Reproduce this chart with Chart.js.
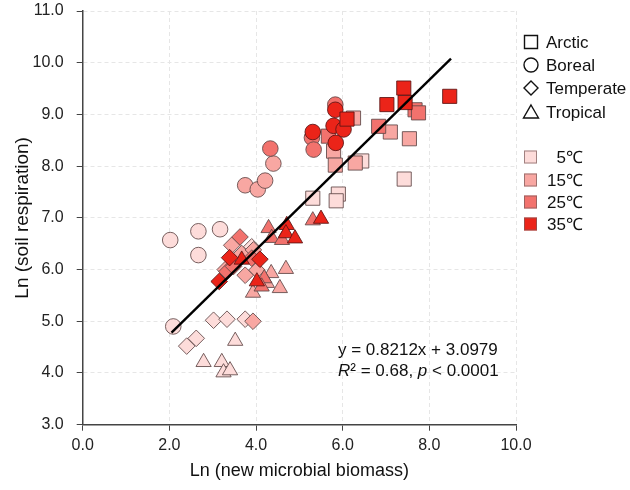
<!DOCTYPE html>
<html><head><meta charset="utf-8">
<script src="https://cdn.jsdelivr.net/npm/chart.js@4.4.1/dist/chart.umd.min.js"></script>
<style>html,body{margin:0;padding:0;background:#fff}</style>
</head><body>
<canvas id="c" width="630" height="490"></canvas>
<script>
// ---- data ----
const temps = [5, 15, 25, 35];
const tempLabels = ['5℃', '15℃', '25℃', '35℃'];
const tempColors = ['#fddcda', '#f8a7a2', '#f2726d', '#eb2419'];
const biomes = ['Arctic', 'Boreal', 'Temperate', 'Tropical'];

const arcticX = [7.41, 7.02, 7.44, 8.47, 6.10, 7.67, 7.75, 6.83, 5.67, 6.25, 7.10, 7.54, 5.79, 5.83, 6.29, 6.44, 7.42, 5.31, 5.90, 5.85];
const arcticY = [9.51, 9.19, 9.23, 9.35, 8.91, 9.09, 9.03, 8.77, 8.58, 8.93, 8.66, 8.53, 8.29, 8.02, 8.06, 8.10, 7.75, 7.38, 7.46, 7.33];
const arcticT = [35, 35, 35, 35, 35, 25, 25, 25, 25, 15, 15, 15, 15, 15, 15, 5, 5, 5, 5, 5];

const borealX = [2.02, 2.09, 2.67, 2.67, 3.17, 3.75, 4.04, 4.21, 4.40, 4.33, 5.29, 5.33, 5.83, 5.83, 5.31, 5.79, 6.02, 5.84];
const borealY = [6.57, 4.90, 6.74, 6.28, 6.78, 7.63, 7.55, 7.72, 8.05, 8.34, 8.55, 8.32, 9.19, 9.09, 8.66, 8.78, 8.71, 8.45];
const borealT = [5, 5, 5, 5, 5, 15, 15, 15, 15, 25, 25, 25, 25, 35, 35, 35, 35, 35];

const temperateX = [2.40, 2.62, 3.02, 3.33, 3.75, 3.90, 3.93, 3.44, 3.67, 3.94, 4.02, 3.75, 3.29, 3.63, 3.33, 3.48, 3.90, 3.39, 4.09, 3.15];
const temperateY = [4.52, 4.67, 5.02, 5.04, 5.04, 6.44, 5.00, 6.47, 6.31, 6.38, 5.99, 5.89, 6.00, 6.63, 5.96, 6.06, 6.22, 6.23, 6.20, 5.77];
const temperateT = [5, 5, 5, 5, 5, 5, 15, 15, 15, 15, 15, 15, 15, 25, 25, 25, 25, 35, 35, 35];

const tropicalX = [2.79, 3.21, 3.25, 3.40, 3.52, 4.69, 4.35, 4.55, 4.25, 3.93, 4.29, 4.36, 4.60, 5.31, 4.19, 4.13, 4.71, 4.69, 4.90, 5.50, 4.02, 3.67];
const tropicalY = [4.21, 4.21, 4.01, 4.05, 4.62, 6.01, 5.93, 5.64, 5.74, 5.55, 6.80, 6.61, 6.57, 6.95, 5.83, 5.67, 6.86, 6.70, 6.60, 6.98, 5.77, 6.19];
const tropicalT = [5, 5, 5, 5, 5, 15, 15, 15, 15, 15, 25, 25, 25, 25, 25, 25, 35, 35, 35, 35, 35, 35];

const fitX = [2.05, 8.50];
const fitY = [4.78, 10.08];
const fitEquation = 'y = 0.8212x + 3.0979';
const fitStats = ['R', '² = 0.68, ', 'p', ' < 0.0001'];

const xTitle = 'Ln (new microbial biomass)';
const yTitle = 'Ln (soil respiration)';

// ---- build datasets ----
const biomeData = [
  {x: arcticX, y: arcticY, t: arcticT, style: 'rect', r: 10},
  {x: borealX, y: borealY, t: borealT, style: 'circle', r: 7.8},
  {x: temperateX, y: temperateY, t: temperateT, style: 'rectRot', r: 8.3},
  {x: tropicalX, y: tropicalY, t: tropicalT, style: 'triangle', r: 8.8}
];

const datasets = [{
  type: 'line',
  data: fitX.map((v, i) => ({x: v, y: fitY[i]})),
  borderColor: '#000', borderWidth: 2.4, pointRadius: 0, fill: false, tension: 0
}];
for (let ti = temps.length - 1; ti >= 0; ti--) {
  biomeData.forEach((b, bi) => {
    const pts = [];
    b.x.forEach((v, i) => { if (b.t[i] === temps[ti]) pts.push({x: v, y: b.y[i]}); });
    datasets.push({
      label: biomes[bi] + ' ' + tempLabels[ti],
      data: pts,
      pointStyle: b.style,
      pointRadius: b.r,
      backgroundColor: tempColors[ti],
      borderColor: ti === 3 ? 'rgba(90,20,20,0.85)' : 'rgba(95,70,70,0.85)',
      borderWidth: 1
    });
  });
}

const FONT = "'Liberation Sans', Arial, sans-serif";
Chart.defaults.font.family = FONT;

const overlay = {
  id: 'overlay',
  afterDraw(chart) {
    const ctx = chart.ctx;
    ctx.save();
    // legend: shapes
    ctx.strokeStyle = '#111';
    ctx.lineWidth = 1.4;
    ctx.fillStyle = '#111';
    ctx.font = '17px ' + FONT;
    ctx.textBaseline = 'middle';
    ctx.textAlign = 'left';
    const sx = 531, tx = 546;
    const shapeYs = [42, 65, 88, 112];
    shapeYs.forEach((y, i) => {
      ctx.beginPath();
      if (i === 0) ctx.rect(sx - 6.5, y - 6.5, 13, 13);
      else if (i === 1) ctx.arc(sx, y, 7, 0, Math.PI * 2);
      else if (i === 2) { ctx.moveTo(sx, y - 7); ctx.lineTo(sx + 7, y); ctx.lineTo(sx, y + 7); ctx.lineTo(sx - 7, y); ctx.closePath(); }
      else { ctx.moveTo(sx, y - 7); ctx.lineTo(sx + 7.5, y + 6); ctx.lineTo(sx - 7.5, y + 6); ctx.closePath(); }
      ctx.stroke();
      ctx.fillText(biomes[i], tx, y + 1);
    });
    // legend: temperatures
    const tYs = [157, 180, 202, 224];
    const rightX = 547 + ctx.measureText('15℃').width;
    tYs.forEach((y, i) => {
      ctx.fillStyle = tempColors[i];
      ctx.fillRect(524, y - 6.5, 13, 13);
      ctx.strokeStyle = 'rgba(120,90,90,0.7)';
      ctx.lineWidth = 1;
      ctx.strokeRect(524.5, y - 6, 12, 12);
      ctx.fillStyle = '#111';
      ctx.textAlign = 'right';
      ctx.fillText(tempLabels[i], rightX, y + 1);
    });
    // regression annotation
    ctx.textAlign = 'left';
    ctx.fillStyle = '#111';
    ctx.font = '17px ' + FONT;
    ctx.fillText(fitEquation, 338, 350);
    let x = 338;
    fitStats.forEach((s, i) => {
      ctx.font = (i % 2 === 0 ? 'italic ' : '') + '17px ' + FONT;
      ctx.fillText(s, x, 371);
      x += ctx.measureText(s).width;
    });
    ctx.restore();
  }
};

new Chart(document.getElementById('c'), {
  type: 'scatter',
  data: {datasets},
  options: {
    responsive: false,
    animation: false,
    events: [],
    layout: {padding: {left: 8, right: 114, top: 0, bottom: 5}},
    plugins: {legend: {display: false}, tooltip: {enabled: false}},
    scales: {
      x: {
        type: 'linear', min: 0, max: 10,
        ticks: {stepSize: 2, callback: v => v.toFixed(1), font: {size: 16}, color: '#222', padding: 5},
        grid: {color: '#e6e6e6', lineWidth: 1, tickColor: '#444', tickLength: 6},
        border: {display: true, color: '#444', width: 1.5, dash: [4, 3]},
        title: {display: true, text: xTitle, font: {size: 18}, color: '#111', padding: {top: 4, bottom: 3}},
        afterFit: s => { s.height = 60.3; }
      },
      y: {
        type: 'linear', min: 3, max: 11,
        ticks: {stepSize: 1, callback: v => v.toFixed(1), font: {size: 16}, color: '#222', padding: 13},
        grid: {color: '#e6e6e6', lineWidth: 1, tickColor: '#444', tickLength: 6},
        border: {display: true, color: '#444', width: 1.5, dash: [4, 3]},
        title: {display: true, text: yTitle, font: {size: 19}, color: '#111', padding: {top: 3, bottom: 0}},
        afterFit: s => { s.width = 74.7; s.paddingTop = 7; s.paddingBottom = 0; }
      }
    }
  },
  plugins: [overlay]
});
</script>
</body></html>
